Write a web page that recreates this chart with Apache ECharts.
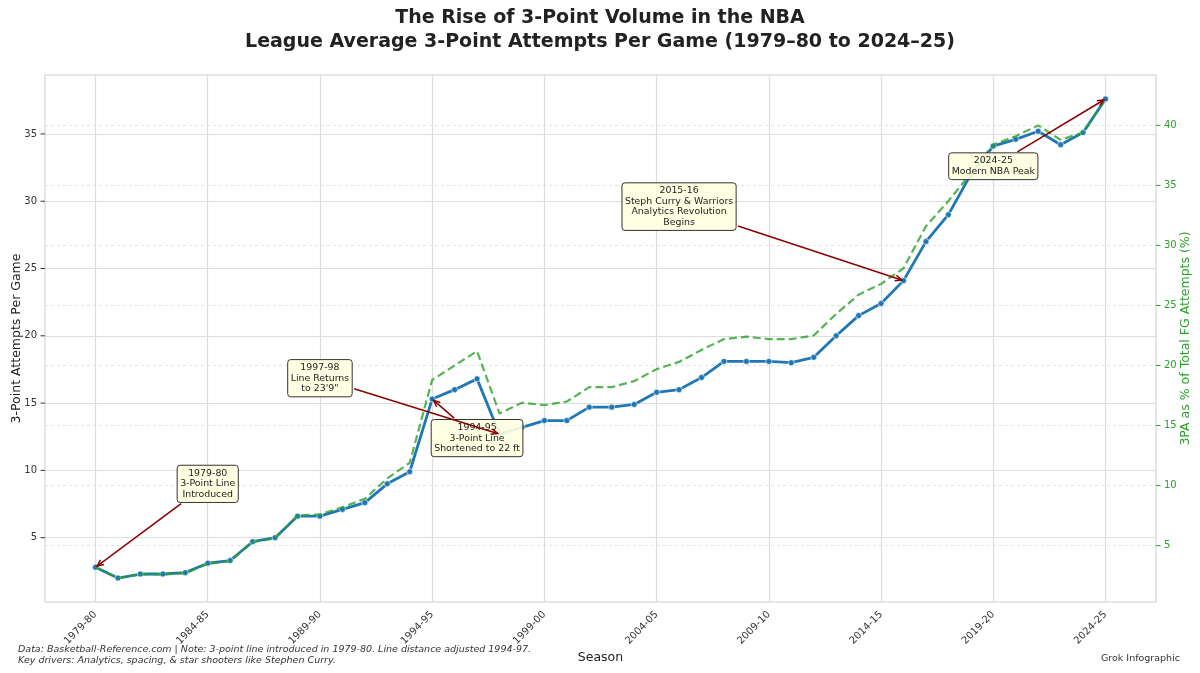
<!DOCTYPE html>
<html>
<head>
<meta charset="utf-8">
<script src="https://cdn.jsdelivr.net/npm/echarts@6/dist/echarts.min.js"></script>
<style>
  html, body { margin: 0; padding: 0; background: #fff; }
  #chart { width: 1200px; height: 673px; }
</style>
</head>
<body>
<div id="chart"></div>
<script>
// seasons on the x axis
const seasons = [
  '1979-80', '1980-81', '1981-82', '1982-83', '1983-84', '1984-85', '1985-86', '1986-87',
  '1987-88', '1988-89', '1989-90', '1990-91', '1991-92', '1992-93', '1993-94', '1994-95',
  '1995-96', '1996-97', '1997-98', '1998-99', '1999-00', '2000-01', '2001-02', '2002-03',
  '2003-04', '2004-05', '2005-06', '2006-07', '2007-08', '2008-09', '2009-10', '2010-11',
  '2011-12', '2012-13', '2013-14', '2014-15', '2015-16', '2016-17', '2017-18', '2018-19',
  '2019-20', '2020-21', '2021-22', '2022-23', '2023-24', '2024-25'
];

// league average 3PA per game (left axis)
const threePA = [
  2.8, 2.0, 2.3, 2.3, 2.4, 3.1, 3.3, 4.7, 5.0, 6.6, 6.6, 7.1, 7.6, 9.0, 9.9, 15.3,
  16.0, 16.8, 12.7, 13.2, 13.7, 13.7, 14.7, 14.7, 14.9, 15.8, 16.0, 16.9, 18.1, 18.1,
  18.1, 18.0, 18.4, 20.0, 21.5, 22.4, 24.1, 27.0, 29.0, 32.0, 34.1, 34.6, 35.2, 34.2,
  35.1, 37.6
];

// 3PA as % of all FGA (right axis)
const threePARate = [
  3.2, 2.3, 2.6, 2.6, 2.7, 3.5, 3.7, 5.3, 5.6, 7.5, 7.6, 8.2, 8.9, 10.6, 11.9, 18.8,
  20.0, 21.2, 16.0, 16.9, 16.7, 17.0, 18.2, 18.2, 18.7, 19.7, 20.3, 21.3, 22.2, 22.4,
  22.2, 22.2, 22.5, 24.3, 25.9, 26.8, 28.1, 31.6, 33.7, 36.0, 38.4, 39.1, 40.0, 38.8,
  39.4, 42.2
];

const seasonTicks = [0, 5, 10, 15, 20, 25, 30, 35, 40, 45];
const leftTicks = [5, 10, 15, 20, 25, 30, 35];
const rightTicks = [5, 10, 15, 20, 25, 30, 35, 40];

// callouts: season index they point at, text placed at (tx, ty) in left-axis data units
const notes = [
  { idx: 0,  tx: 5,  ty: 9.0,  text: '1979-80\n3-Point Line\nIntroduced' },
  { idx: 18, tx: 10, ty: 16.85, text: '1997-98\nLine Returns\nto 23\'9"' },
  { idx: 15, tx: 17, ty: 12.4, text: '1994-95\n3-Point Line\nShortened to 22 ft' },
  { idx: 36, tx: 26, ty: 29.6, text: '2015-16\nSteph Curry & Warriors\nAnalytics Revolution\nBegins' },
  { idx: 45, tx: 40, ty: 32.6, text: '2024-25\nModern NBA Peak' }
];

const FONT = '"DejaVu Sans", "Liberation Sans", sans-serif';
const BLUE = '#1f77b4';
const GREEN = '#2ca02c';
const ARROW = '#8b0000';

// 5% padding like matplotlib autoscale
function padded(arr) {
  let lo = Math.min(...arr), hi = Math.max(...arr);
  let m = (hi - lo) * 0.05;
  return [lo - m, hi + m];
}
const leftRange = padded(threePA);
const rightRange = padded(threePARate);
const xRange = [-(seasons.length - 1) * 0.05, (seasons.length - 1) * 1.05];

const chart = echarts.init(document.getElementById('chart'));

const titleStyle = { fontFamily: FONT, fontWeight: 'bold', fontSize: 19, color: '#222' };

chart.setOption({
  animation: false,
  backgroundColor: '#fff',
  textStyle: { fontFamily: FONT },
  title: [
    { text: 'The Rise of 3-Point Volume in the NBA', left: 'center', top: 9, padding: 0, textStyle: titleStyle },
    { text: 'League Average 3-Point Attempts Per Game (1979–80 to 2024–25)', left: 'center', top: 33, padding: 0, textStyle: titleStyle },
    {
      text: 'Data: Basketball-Reference.com | Note: 3-point line introduced in 1979-80. Line distance adjusted 1994-97.\nKey drivers: Analytics, spacing, & star shooters like Stephen Curry.',
      left: 18, top: 644.5, padding: 0,
      textStyle: { fontFamily: FONT, fontStyle: 'italic', fontWeight: 'normal', fontSize: 9.5, color: '#333', lineHeight: 11 }
    },
    {
      text: 'Grok Infographic',
      right: 20, top: 654, padding: 0,
      textStyle: { fontFamily: FONT, fontWeight: 'normal', fontSize: 9.5, color: '#333' }
    }
  ],
  grid: {
    left: 45, right: 44, top: 75, bottom: 71,
    outerBoundsMode: 'none', containLabel: false,
    show: true, borderColor: '#cccccc', borderWidth: 1, backgroundColor: 'transparent'
  },
  xAxis: {
    type: 'value',
    min: xRange[0], max: xRange[1],
    name: 'Season', nameLocation: 'middle', nameGap: 49, nameMoveOverlap: false,
    nameTextStyle: { fontFamily: FONT, fontSize: 12.5, color: '#222' },
    axisLine: { show: false, onZero: false },
    axisTick: { show: false, customValues: seasonTicks },
    axisLabel: {
      customValues: seasonTicks,
      formatter: v => seasons[Math.round(v)] || '',
      rotate: 45, margin: 11,
      fontFamily: FONT, fontSize: 10, color: '#333'
    },
    splitLine: { show: true, lineStyle: { color: '#dddddd', width: 1.2 } }
  },
  yAxis: [
    {
      type: 'value', position: 'left',
      min: leftRange[0], max: leftRange[1],
      name: '3-Point Attempts Per Game', nameLocation: 'middle', nameGap: 22, nameRotate: 90,
      nameMoveOverlap: false,
      nameTextStyle: { fontFamily: FONT, fontSize: 12.5, color: '#222' },
      axisLine: { show: false, onZero: false },
      axisTick: { show: false, customValues: leftTicks },
      axisLabel: { customValues: leftTicks, margin: 8, fontFamily: FONT, fontSize: 10, color: '#333' },
      splitLine: { show: true, lineStyle: { color: '#dddddd', width: 1.2 } }
    },
    {
      type: 'value', position: 'right',
      min: rightRange[0], max: rightRange[1],
      name: '3PA as % of Total FG Attempts (%)', nameLocation: 'middle', nameGap: 23, nameRotate: 90,
      nameMoveOverlap: false,
      nameTextStyle: { fontFamily: FONT, fontSize: 12.5, color: GREEN },
      axisLine: { show: false, onZero: false },
      axisTick: { show: false, customValues: rightTicks },
      axisLabel: { customValues: rightTicks, margin: 8, fontFamily: FONT, fontSize: 10, color: GREEN },
      splitLine: { show: true, lineStyle: { color: '#e2e2e2', width: 1, type: [3, 3] } }
    }
  ],
  series: [
    {
      name: '3PA Per Game',
      type: 'line',
      yAxisIndex: 0,
      data: threePA.map((v, i) => [i, v]),
      symbol: 'circle', symbolSize: 6,
      lineStyle: { color: BLUE, width: 2.8 },
      itemStyle: { color: BLUE, borderColor: '#fff', borderWidth: 0.6 },
      z: 2
    },
    {
      name: '3PA %',
      type: 'line',
      yAxisIndex: 1,
      data: threePARate.map((v, i) => [i, v]),
      showSymbol: false, symbol: 'none',
      lineStyle: { color: GREEN, width: 2.2, type: [8, 4], opacity: 0.8 },
      itemStyle: { color: GREEN },
      z: 3
    }
  ]
});

// small outward tick marks on both y axes
function tickMarks() {
  const els = [];
  const rect = chart.getModel().getComponent('grid', 0).coordinateSystem.getRect();
  leftTicks.forEach(v => {
    const y = chart.convertToPixel({ yAxisIndex: 0 }, v);
    els.push({ type: 'line', z: 50, shape: { x1: rect.x - 4.5, y1: y, x2: rect.x, y2: y },
      style: { stroke: '#333', lineWidth: 1 } });
  });
  rightTicks.forEach(v => {
    const y = chart.convertToPixel({ yAxisIndex: 1 }, v);
    const x = rect.x + rect.width;
    els.push({ type: 'line', z: 50, shape: { x1: x, y1: y, x2: x + 4.5, y2: y },
      style: { stroke: GREEN, lineWidth: 1 } });
  });
  return els;
}

// callout boxes + arrows, placed through the axis scales
function drawNotes() {
  const fs = 9.4, lh = 10.4, pad = 3;
  const ctx = document.createElement('canvas').getContext('2d');
  ctx.font = fs + 'px ' + FONT;
  const boxes = [], arrows = [];
  notes.forEach(n => {
    const c = chart.convertToPixel({ xAxisIndex: 0, yAxisIndex: 0 }, [n.tx, n.ty]);
    const p = chart.convertToPixel({ xAxisIndex: 0, yAxisIndex: 0 }, [n.idx, threePA[n.idx]]);
    const lines = n.text.split('\n');
    const w = Math.max(...lines.map(l => ctx.measureText(l).width)) + 2 * pad;
    const h = lines.length * lh + 2 * pad;
    boxes.push({
      type: 'rect', z: 100,
      shape: { x: c[0] - w / 2, y: c[1] - h / 2, width: w, height: h, r: 3 },
      style: { fill: 'rgba(255,255,224,0.9)', stroke: '#333', lineWidth: 1 }
    });
    boxes.push({
      type: 'text', z: 101,
      style: {
        x: c[0], y: c[1], text: n.text, align: 'center', verticalAlign: 'middle',
        fontFamily: FONT, fontSize: fs, lineHeight: lh, fill: '#222'
      }
    });
    // arrow from box edge to point
    let dx = p[0] - c[0], dy = p[1] - c[1];
    let len = Math.hypot(dx, dy);
    let ux = dx / len, uy = dy / len;
    let t = Math.min(Math.abs(dx) > 0 ? (w / 2) / Math.abs(dx) : Infinity,
                     Math.abs(dy) > 0 ? (h / 2) / Math.abs(dy) : Infinity);
    let sx = c[0] + dx * t + ux * 2, sy = c[1] + dy * t + uy * 2;
    let ex = p[0] - ux * 2, ey = p[1] - uy * 2;
    arrows.push({
      type: 'line', z: 102,
      shape: { x1: sx, y1: sy, x2: ex, y2: ey },
      style: { stroke: ARROW, lineWidth: 1.5 }
    });
    const hl = 7, ang = 0.42;
    const a = Math.atan2(uy, ux);
    arrows.push({
      type: 'polyline', z: 102,
      shape: { points: [
        [ex - hl * Math.cos(a - ang), ey - hl * Math.sin(a - ang)],
        [ex, ey],
        [ex - hl * Math.cos(a + ang), ey - hl * Math.sin(a + ang)]
      ] },
      style: { stroke: ARROW, lineWidth: 1.5, fill: null }
    });
  });
  return boxes.concat(arrows);
}
chart.setOption({ graphic: tickMarks().concat(drawNotes()) });
</script>
</body>
</html>
